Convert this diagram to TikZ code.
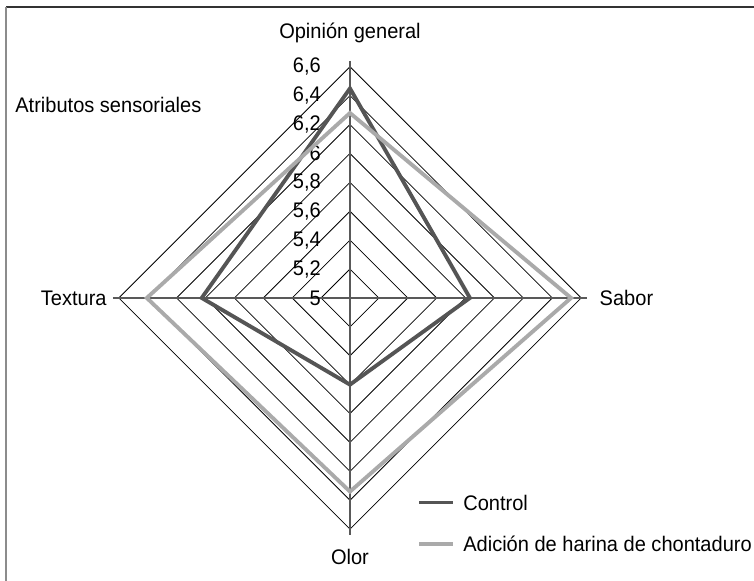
\documentclass[tikz,border=0pt]{standalone}
\usepackage{fontspec}
\setmainfont{Liberation Sans}[FakeStretch=0.95]
\definecolor{serieuno}{RGB}{85,85,85}
\definecolor{seriedos}{RGB}{170,170,170}
\tikzset{
  ring/.style={black,line width=0.45pt},
  eje/.style={black!65,line width=0.8pt},
  control/.style={serieuno,line width=2.2pt,line join=miter},
  harina/.style={seriedos,line width=2.2pt,line join=miter},
  etiqueta/.style={font=\fontsize{12}{14}\selectfont,inner sep=0pt}
}
\begin{document}
\begin{tikzpicture}[x=0.578cm,y=0.578cm]
			\useasboundingbox (-12.11,-9.79) rectangle (13.98,10.31);
			\draw[black!80,line width=0.9pt] (-11.9,10.07) -- (13.98,10.07);
			\draw[black!45,line width=1.1pt] (-11.9,10.07) -- (-11.9,-9.79);
			
			\foreach \k in {1,...,8}
				\draw[ring] (0,\k) -- (\k,0) -- (0,-\k) -- (-\k,0) -- cycle;
			
			\coordinate (arriba) at (0,8.2);
			\coordinate (derecha) at (8.2,0);
			\coordinate (abajo) at (0,-8.2);
			\coordinate (izquierda) at (-8.2,0);
			\draw[eje] (arriba) -- (abajo);
			\draw[eje] (izquierda) -- (derecha);
			
			\foreach \k/\v in {0/5,1/{5,2},2/{5,4},3/{5,6},4/{5,8},5/6,6/{6,2},7/{6,4},8/{6,6}}
				\node[etiqueta,anchor=east] (v\k) at (-1.0,\k) {\v};
			
			\draw[control] (0,7.25) -- (4.15,0) -- (0,-3) -- (-5.13,0) -- cycle;
			\draw[harina] (0,6.4) -- (7.65,0) -- (0,-6.7) -- (-7.03,0) -- cycle;
			
			\node[etiqueta] (opinion) at (0,9.17) {Opinión general};
			\node[etiqueta,anchor=west] (sabor) at (8.63,0) {Sabor};
			\node[etiqueta] (olor) at (0,-8.95) {Olor};
			\node[etiqueta,anchor=east] (textura) at (-8.41,0) {Textura};
			\node[etiqueta,anchor=west] (titulo) at (-11.59,6.68) {Atributos sensoriales};
			
			% leyenda
			\node[etiqueta,anchor=west] (leyuno) at (3.91,-7.08) {Control};
			\node[etiqueta,anchor=west] (leydos) at (3.91,-8.51) {Adición de harina de chontaduro};
			\draw[control] (2.4,-7.08) -- (3.55,-7.08);
			\draw[harina] (2.4,-8.51) -- (3.55,-8.51);
		\end{tikzpicture}
\end{document}
